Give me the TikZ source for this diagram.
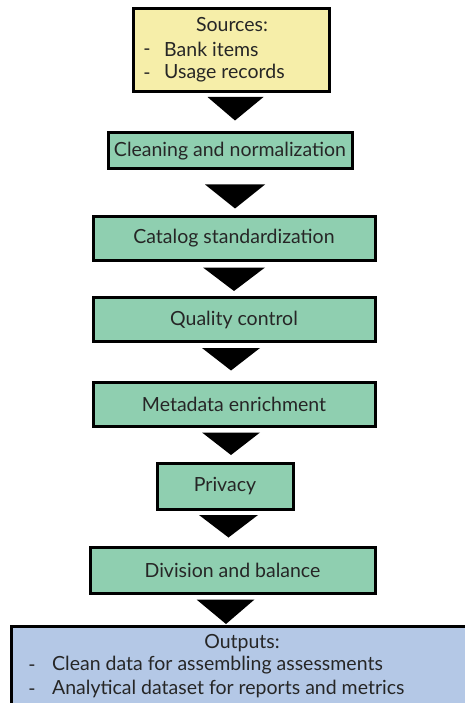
\documentclass[tikz,border=0pt]{standalone}
\usepackage{fontspec}
\setmainfont{Lato}
\usetikzlibrary{calc}
\definecolor{stepgreen}{HTML}{8FCFB0}
\definecolor{srcyellow}{HTML}{F6EEA9}
\definecolor{outblue}{HTML}{B4C8E6}
\tikzset{
  box/.style={draw=black, line width=3pt, rectangle, inner sep=0pt},
  stepbox/.style={box, fill=stepgreen},
  lbl/.style={inner sep=0pt, font=\fontsize{19.5}{22}\selectfont, text=black!85},
  tri/.style={fill=black},
}
\begin{document}
\begin{tikzpicture}[x=1pt,y=-1pt]
\useasboundingbox (0,0) rectangle (465,703);
\begin{scope}
\clip (0,0) rectangle (465,703);
% Sources
\node[box, fill=srcyellow, minimum width=196pt, minimum height=83pt] (src) at (231.5,50) {};
\node[lbl] (srcT) at (232,25) {Sources:};
\node[lbl] (srcD1) at (147,52) {-};
\node[lbl, anchor=west] (srcL1) at (164,49) {Bank items};
\node[lbl] (srcD2) at (147,76) {-};
\node[lbl, anchor=west] (srcL2) at (164,73) {Usage records};
% steps
\node[stepbox, minimum width=244pt, minimum height=36pt] (s1) at (230,151) {};
\node[lbl] (s1t) at (s1) {Cleaning and normalization};
\node[stepbox, minimum width=282pt, minimum height=43pt] (s2) at (234,238.5) {};
\node[lbl] (s2t) at (s2) {Catalog standardization};
\node[stepbox, minimum width=282pt, minimum height=44pt] (s3) at (234,319.5) {};
\node[lbl] (s3t) at (s3) {Quality control};
\node[stepbox, minimum width=282pt, minimum height=44pt] (s4) at (234,404) {};
\node[lbl] (s4t) at (s4) {Metadata enrichment};
\node[stepbox, minimum width=136pt, minimum height=46pt] (s5) at (225,486.5) {};
\node[lbl] (s5t) at (s5) {Privacy};
\node[stepbox, minimum width=285pt, minimum height=46pt] (s6) at (232.5,570) {};
\node[lbl] (s6t) at (s6) {Division and balance};
% Outputs
\node[box, fill=outblue, minimum width=480pt, minimum height=100pt, anchor=north west] (out) at (10,625) {};
\node[lbl] (outT) at (242,643) {Outputs:};
\node[lbl] (outD1) at (32,668) {-};
\node[lbl, anchor=west] (outL1) at (52,665) {Clean data for assembling assessments};
\node[lbl] (outD2) at (32,692) {-};
\node[lbl, anchor=west] (outL2) at (52,689) {Analytical dataset for reports and metrics};
% arrows
\fill[tri] ($(src.south)+(-24,4)$) -- ($(src.south)+(32,4)$) -- ($(s1.north)+(5,-11)$) -- cycle;
\fill[tri] ($(s1.south)+(-25,14)$) -- ($(s1.south)+(35,14)$) -- ($(s2.north)+(1,-7)$) -- cycle;
\fill[tri] ($(s2.south)+(-31,6)$) -- ($(s2.south)+(31,6)$) -- ($(s3.north)+(0,-5)$) -- cycle;
\fill[tri] ($(s3.south)+(-32,5)$) -- ($(s3.south)+(26,5)$) -- ($(s4.north)+(-3,-10)$) -- cycle;
\fill[tri] ($(s4.south)+(-32,5)$) -- ($(s4.south)+(26,5)$) -- ($(s5.north)+(6,-7)$) -- cycle;
\fill[tri] ($(s5.south)+(-26,4)$) -- ($(s5.south)+(33,4)$) -- ($(s6.north)+(-4,-8)$) -- cycle;
\fill[tri] ($(s6.south)+(-36,5)$) -- ($(s6.south)+(22,5)$) -- ($(out.north west)+(216,-1)$) -- cycle;
\end{scope}
\end{tikzpicture}
\end{document}
